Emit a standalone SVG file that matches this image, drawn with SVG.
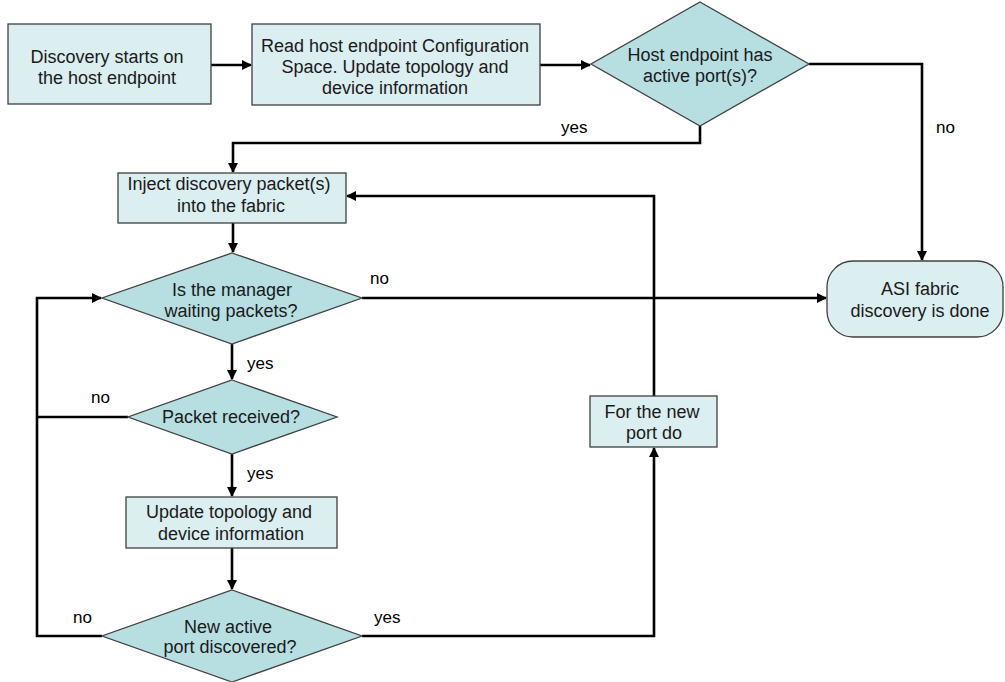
<svg xmlns="http://www.w3.org/2000/svg" width="1005" height="682" viewBox="0 0 1005 682">
<style>
.box{fill:#DBEEF0;stroke:#404040;stroke-width:1.3}
.dia{fill:#B7DFE2;stroke:#404040;stroke-width:1.3}
.t{font-family:"Liberation Sans",Arial,sans-serif;font-size:18px;fill:#1a1a1a;text-anchor:middle}
.l{font-family:"Liberation Sans",Arial,sans-serif;font-size:17px;fill:#000}
.c{fill:none;stroke:#000;stroke-width:2.6}
</style>
<defs>
<marker id="a" markerWidth="10" markerHeight="10" refX="9" refY="5" orient="auto" markerUnits="userSpaceOnUse">
<path d="M0,0 L10,5 L0,10 Z" fill="#000"/>
</marker>
</defs>
<rect width="1005" height="682" fill="#fff"/>
<g id="connectors">
<path class="c" d="M211,65 H251" marker-end="url(#a)"/>
<path class="c" d="M540,65 H590" marker-end="url(#a)"/>
<path class="c" d="M809,64 H922 V260" marker-end="url(#a)"/>
<path class="c" d="M700,126 V143 H233 V172" marker-end="url(#a)"/>
<path class="c" d="M233,223 V252" marker-end="url(#a)"/>
<path class="c" d="M362,298 H826" marker-end="url(#a)"/>
<path class="c" d="M232,344 V379" marker-end="url(#a)"/>
<path class="c" d="M232,454 V496" marker-end="url(#a)"/>
<path class="c" d="M232,548 V589" marker-end="url(#a)"/>
<path class="c" d="M128,417 H37"/>
<path class="c" d="M102,636 H37 V298 H101" marker-end="url(#a)"/>
<path class="c" d="M362,636 H654 V448" marker-end="url(#a)"/>
<path class="c" d="M654,396 V196 H347" marker-end="url(#a)"/>
</g>
<g id="labels">
<text class="l" x="561" y="133">yes</text>
<text class="l" x="936" y="133">no</text>
<text class="l" x="370" y="284">no</text>
<text class="l" x="247" y="369">yes</text>
<text class="l" x="91" y="403">no</text>
<text class="l" x="247" y="479">yes</text>
<text class="l" x="73" y="623">no</text>
<text class="l" x="374" y="623">yes</text>
</g>
<g id="n1">
<rect class="box" x="8" y="24" width="203" height="80"/>
<text class="t" x="107" y="63">Discovery starts on</text>
<text class="t" x="107" y="84">the host endpoint</text>
</g>
<g id="n2">
<rect class="box" x="252" y="24" width="288" height="81"/>
<text class="t" x="395" y="52">Read host endpoint Configuration</text>
<text class="t" x="395" y="73">Space. Update topology and</text>
<text class="t" x="395" y="94">device information</text>
</g>
<g id="n3">
<polygon class="dia" points="700,2 809,64 700,126 591,64"/>
<text class="t" x="700" y="61">Host endpoint has</text>
<text class="t" x="700" y="82">active port(s)?</text>
</g>
<g id="n4">
<rect class="box" x="827" y="261" width="176" height="76" rx="26" ry="26"/>
<text class="t" x="920" y="295">ASI fabric</text>
<text class="t" x="920" y="317">discovery is done</text>
</g>
<g id="n5">
<rect class="box" x="118" y="173" width="228" height="50"/>
<text class="t" x="229" y="190">Inject discovery packet(s)</text>
<text class="t" x="231" y="212">into the fabric</text>
</g>
<g id="n6">
<polygon class="dia" points="232,253 362,298 232,344 102,298"/>
<text class="t" x="232" y="296">Is the manager</text>
<text class="t" x="231" y="317">waiting packets?</text>
</g>
<g id="n7">
<polygon class="dia" points="232,380 337,417 232,454 128,417"/>
<text class="t" x="231" y="423">Packet received?</text>
</g>
<g id="n8">
<rect class="box" x="126" y="497" width="211" height="51"/>
<text class="t" x="229" y="518">Update topology and</text>
<text class="t" x="231" y="540">device information</text>
</g>
<g id="n9">
<polygon class="dia" points="232,590 362,636 232,682 102,636"/>
<text class="t" x="228" y="633">New active</text>
<text class="t" x="230" y="653">port discovered?</text>
</g>
<g id="n10">
<rect class="box" x="590" y="396" width="127" height="51"/>
<text class="t" x="652" y="418">For the new</text>
<text class="t" x="654" y="439">port do</text>
</g>
</svg>
